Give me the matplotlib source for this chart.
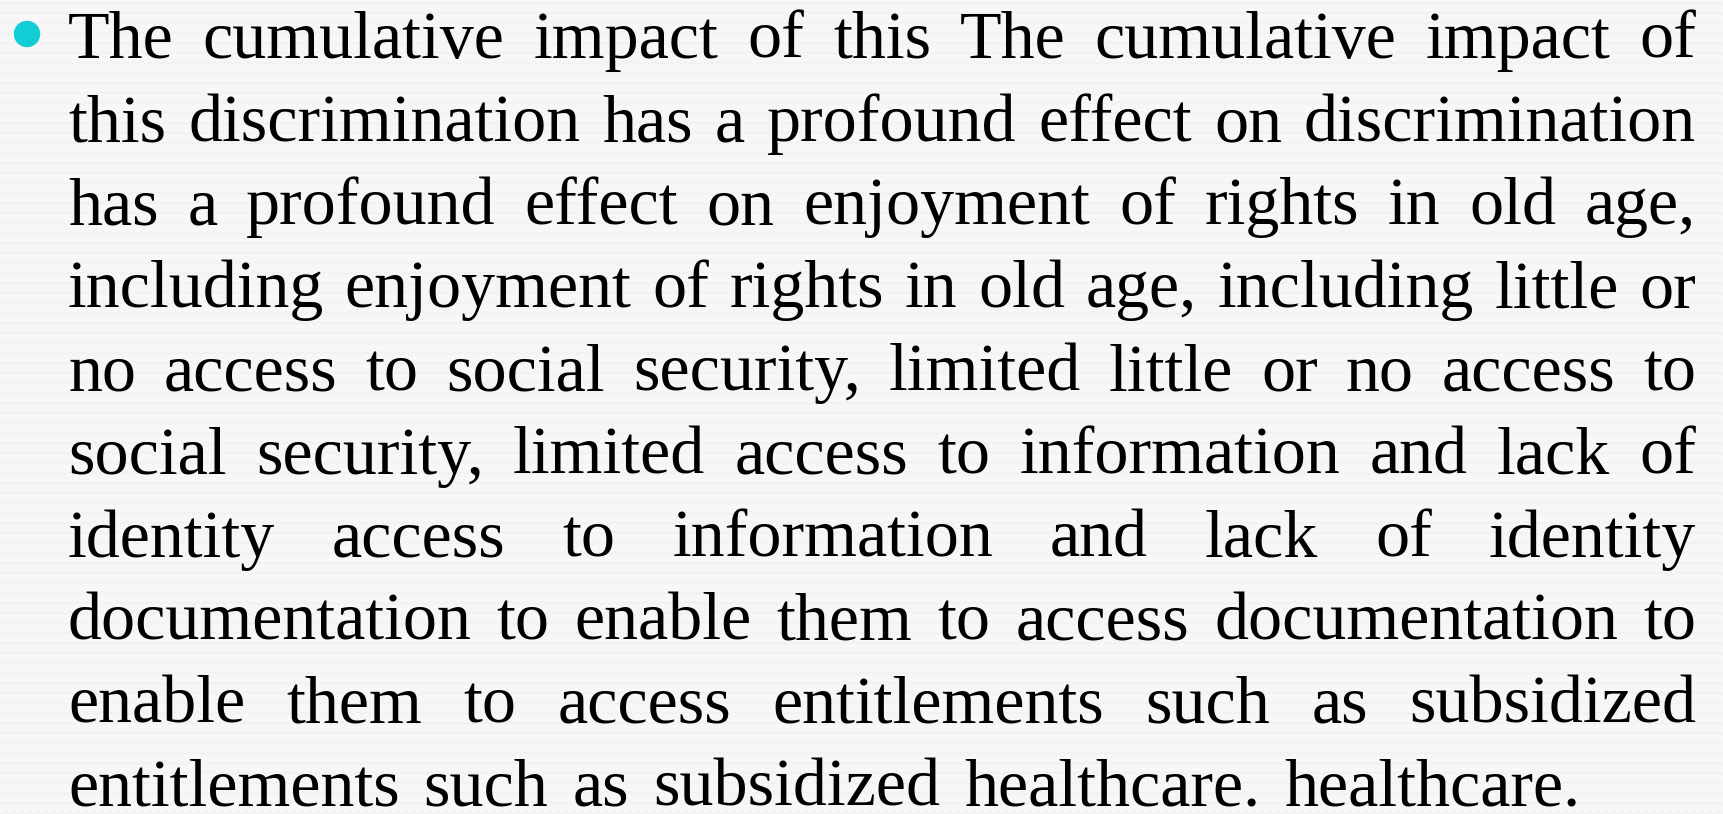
import matplotlib
matplotlib.use("Agg")
import numpy as np
import matplotlib.pyplot as plt
from matplotlib.patches import Circle

# slide text, one entry per displayed line
lines = [
    "The cumulative impact of this The cumulative impact of",
    "this discrimination has a profound effect on discrimination",
    "has a profound effect on enjoyment of rights in old age,",
    "including enjoyment of rights in old age, including little or",
    "no access to social security, limited little or no access to",
    "social security, limited access to information and lack of",
    "identity access to information and lack of identity",
    "documentation to enable them to access documentation to",
    "enable them to access entitlements such as subsidized",
    "entitlements such as subsidized healthcare. healthcare.",
]

W, H = 1723, 814
left, right = 68, 1696
first_base, line_gap = 58, 83.1
fsize = 49
last_gap = 24

fig = plt.figure(figsize=(W / 100, H / 100), dpi=100)
fig.patch.set_facecolor("#f7f7f7")
ax = fig.add_axes([0, 0, 1, 1])
ax.set_xlim(0, W)
ax.set_ylim(H, 0)
ax.axis("off")

# faint wavy background texture
xs = np.linspace(0, W, 1600)
for yy in np.arange(3, H, 10):
    ax.plot(xs, yy + 1.2 * np.sin(xs * 2 * np.pi / 8), color="#ececec", lw=0.6, zorder=0)

ax.add_patch(Circle((27, 34), 12.5, color="#12cdd6", zorder=2))

renderer = fig.canvas.get_renderer()
font = dict(family="Liberation Serif", fontsize=fsize, color="black", va="baseline", zorder=3)

for i, line in enumerate(lines):
    y = first_base + i * line_gap
    words = line.split(" ")
    txts = [ax.text(0, y, w, ha="left", **font) for w in words]
    widths = [t.get_window_extent(renderer).width for t in txts]
    if i == len(lines) - 1:
        gap = last_gap
    else:
        gap = (right - left - sum(widths)) / (len(words) - 1)
    x = left
    for t, w in zip(txts, widths):
        t.set_x(x)
        x += w + gap

fig.savefig("out.png", dpi=100, facecolor=fig.get_facecolor())
